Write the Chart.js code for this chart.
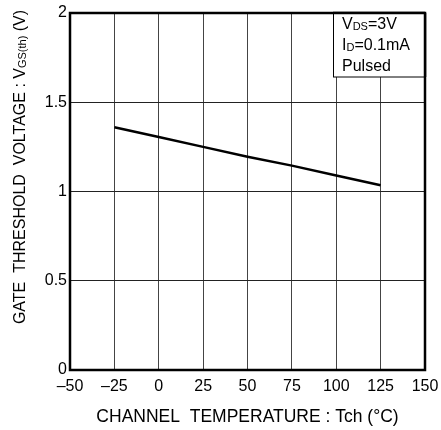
<!DOCTYPE html>
<html>
<head>
<meta charset="utf-8">
<script src="https://cdn.jsdelivr.net/npm/chart.js@4"></script>
<style>
  body { margin: 0; background: #fff; }
  #wrap { width: 441px; height: 430px; }
</style>
</head>
<body>
<div id="wrap"><canvas id="vthChart" width="441" height="430"></canvas></div>
<script>
// channel temperature (°C) and gate threshold voltage (V)
const tempC = [-25, 0, 25, 50, 75, 100, 125];
const vgsTh = [1.36, 1.305, 1.25, 1.195, 1.145, 1.09, 1.035];

const xTicks = [-50, -25, 0, 25, 50, 75, 100, 125, 150];
const yTicks = [0, 0.5, 1, 1.5, 2];

// note box lines: [main, subscript, rest]
const noteLines = [
    ['V', 'DS', '=3V'],
    ['I', 'D', '=0.1mA'],
    ['Pulsed', '', '']
];

const FONT = 'Arial, "Liberation Sans", sans-serif';

// draw text pieces with a smaller subscript part
function drawPieces(ctx, pieces, x, y) {
    let cx = x;
    pieces.forEach(p => {
        ctx.font = p.size + 'px ' + FONT;
        ctx.fillText(p.text, cx, y + (p.sub ? 2 : 0));
        cx += ctx.measureText(p.text).width;
    });
    return cx;
}
function piecesWidth(ctx, pieces) {
    let w = 0;
    pieces.forEach(p => {
        ctx.font = p.size + 'px ' + FONT;
        w += ctx.measureText(p.text).width;
    });
    return w;
}

const extras = {
    id: 'extras',
    afterDraw(chart) {
        const ctx = chart.ctx;
        const a = chart.chartArea;
        ctx.save();

        // heavy frame
        ctx.strokeStyle = '#000';
        ctx.lineWidth = 2.5;
        ctx.strokeRect(a.left, a.top, a.right - a.left, a.bottom - a.top);

        // note box, top right
        const bx = 333, bw = a.right - bx, bh = 64;
        ctx.fillStyle = '#fff';
        ctx.fillRect(bx, a.top, bw, bh);
        ctx.lineWidth = 1;
        ctx.strokeRect(bx + 0.5, a.top, bw, bh);
        ctx.lineWidth = 2.5;
        ctx.beginPath();
        ctx.moveTo(bx, a.top); ctx.lineTo(a.right, a.top);
        ctx.moveTo(a.right, a.top); ctx.lineTo(a.right, a.top + bh);
        ctx.stroke();
        ctx.fillStyle = '#000';
        ctx.textBaseline = 'middle';
        ctx.textAlign = 'left';
        noteLines.forEach((ln, i) => {
            drawPieces(ctx, [
                { text: ln[0], size: 16 },
                { text: ln[1], size: 11, sub: true },
                { text: ln[2], size: 16 }
            ], bx + 9, a.top + 12 + i * 21);
        });

        // rotated y axis title with subscript
        const title = [
            { text: 'GATE  THRESHOLD  VOLTAGE : V', size: 16 },
            { text: 'GS(th)', size: 11, sub: true },
            { text: ' (V)', size: 16 }
        ];
        ctx.translate(21, 167);
        ctx.rotate(-Math.PI / 2);
        const w = piecesWidth(ctx, title);
        drawPieces(ctx, title, -w / 2, 0);
        ctx.restore();
    }
};

new Chart(document.getElementById('vthChart'), {
    type: 'line',
    data: {
        datasets: [{
            data: tempC.map((t, i) => ({ x: t, y: vgsTh[i] })),
            borderColor: '#000',
            borderWidth: 2.5,
            pointRadius: 0,
            fill: false,
            tension: 0
        }]
    },
    options: {
        responsive: false,
        animation: false,
        layout: { padding: { left: 0, right: 16, top: 13, bottom: 0 } },
        plugins: { legend: { display: false }, tooltip: { enabled: false } },
        scales: {
            x: {
                type: 'linear',
                min: -50,
                max: 150,
                afterBuildTicks: axis => { axis.ticks = xTicks.map(v => ({ value: v })); },
                afterFit: axis => {
                    axis.height = 60;
                    axis.paddingLeft = 0;
                    axis.paddingRight = 0;
                },
                grid: { color: '#444', lineWidth: 1, drawTicks: false },
                border: { display: false },
                ticks: {
                    color: '#000',
                    font: { family: FONT, size: 16 },
                    padding: 7,
                    maxRotation: 0,
                    callback: v => String(v).replace('-', '\u2013')
                },
                title: {
                    display: true,
                    text: 'CHANNEL  TEMPERATURE : Tch (\u00B0C)',
                    color: '#000',
                    font: { family: FONT, size: 17.5 },
                    padding: { top: 8, bottom: 2 }
                }
            },
            y: {
                min: 0,
                max: 2,
                afterBuildTicks: axis => { axis.ticks = yTicks.map(v => ({ value: v })); },
                afterFit: axis => {
                    axis.width = 70;
                    axis.paddingTop = 0;
                    axis.paddingBottom = 0;
                },
                grid: { color: '#222', lineWidth: 1, drawTicks: false },
                border: { display: false },
                ticks: {
                    color: '#000',
                    font: { family: FONT, size: 16 },
                    padding: 3,
                    callback: v => String(v)
                }
            }
        }
    },
    plugins: [extras]
});
</script>
</body>
</html>
